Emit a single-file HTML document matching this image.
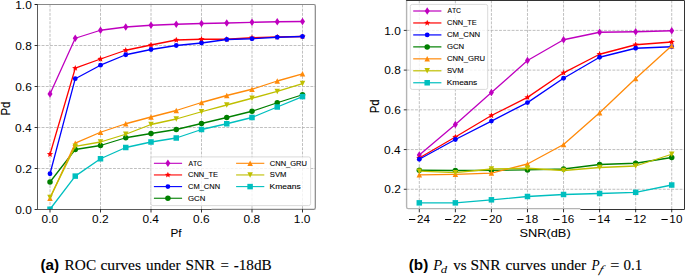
<!DOCTYPE html>
<html><head><meta charset="utf-8"><title>figure</title>
<style>
html,body{margin:0;padding:0;background:#fff;}
body{width:685px;height:276px;overflow:hidden;font-family:"Liberation Sans", sans-serif;}
svg{display:block;}
text{font-kerning:none;}
</style></head><body>
<svg width="685" height="276" viewBox="0 0 685 276">
<clipPath id="cl"><rect x="37.4" y="4.5" width="277.90" height="204.80"/></clipPath>
<line x1="50.00" y1="4.5" x2="50.00" y2="209.3" stroke="#b0b0b0" stroke-width="0.8" stroke-dasharray="2.9,1.3"/>
<line x1="37.4" y1="209.50" x2="315.3" y2="209.50" stroke="#b0b0b0" stroke-width="0.8" stroke-dasharray="2.9,1.3"/>
<line x1="100.50" y1="4.5" x2="100.50" y2="209.3" stroke="#b0b0b0" stroke-width="0.8" stroke-dasharray="2.9,1.3"/>
<line x1="37.4" y1="168.50" x2="315.3" y2="168.50" stroke="#b0b0b0" stroke-width="0.8" stroke-dasharray="2.9,1.3"/>
<line x1="151.00" y1="4.5" x2="151.00" y2="209.3" stroke="#b0b0b0" stroke-width="0.8" stroke-dasharray="2.9,1.3"/>
<line x1="37.4" y1="127.50" x2="315.3" y2="127.50" stroke="#b0b0b0" stroke-width="0.8" stroke-dasharray="2.9,1.3"/>
<line x1="201.50" y1="4.5" x2="201.50" y2="209.3" stroke="#b0b0b0" stroke-width="0.8" stroke-dasharray="2.9,1.3"/>
<line x1="37.4" y1="86.50" x2="315.3" y2="86.50" stroke="#b0b0b0" stroke-width="0.8" stroke-dasharray="2.9,1.3"/>
<line x1="252.00" y1="4.5" x2="252.00" y2="209.3" stroke="#b0b0b0" stroke-width="0.8" stroke-dasharray="2.9,1.3"/>
<line x1="37.4" y1="45.50" x2="315.3" y2="45.50" stroke="#b0b0b0" stroke-width="0.8" stroke-dasharray="2.9,1.3"/>
<line x1="302.50" y1="4.5" x2="302.50" y2="209.3" stroke="#b0b0b0" stroke-width="0.8" stroke-dasharray="2.9,1.3"/>
<line x1="37.4" y1="4.50" x2="315.3" y2="4.50" stroke="#b0b0b0" stroke-width="0.8" stroke-dasharray="2.9,1.3"/>
<g clip-path="url(#cl)">
<path d="M50.00 93.90 L75.25 38.25 L100.50 30.25 L125.75 27.00 L151.00 25.25 L176.25 24.25 L201.50 23.50 L226.75 23.00 L252.00 22.30 L277.25 21.75 L302.50 21.50" fill="none" stroke="#bf00bf" stroke-width="1.3" stroke-linejoin="round"/>
<path d="M50.00 90.10L52.50 93.90L50.00 97.70L47.50 93.90Z" fill="#bf00bf"/>
<path d="M75.25 34.45L77.75 38.25L75.25 42.05L72.75 38.25Z" fill="#bf00bf"/>
<path d="M100.50 26.45L103.00 30.25L100.50 34.05L98.00 30.25Z" fill="#bf00bf"/>
<path d="M125.75 23.20L128.25 27.00L125.75 30.80L123.25 27.00Z" fill="#bf00bf"/>
<path d="M151.00 21.45L153.50 25.25L151.00 29.05L148.50 25.25Z" fill="#bf00bf"/>
<path d="M176.25 20.45L178.75 24.25L176.25 28.05L173.75 24.25Z" fill="#bf00bf"/>
<path d="M201.50 19.70L204.00 23.50L201.50 27.30L199.00 23.50Z" fill="#bf00bf"/>
<path d="M226.75 19.20L229.25 23.00L226.75 26.80L224.25 23.00Z" fill="#bf00bf"/>
<path d="M252.00 18.50L254.50 22.30L252.00 26.10L249.50 22.30Z" fill="#bf00bf"/>
<path d="M277.25 17.95L279.75 21.75L277.25 25.55L274.75 21.75Z" fill="#bf00bf"/>
<path d="M302.50 17.70L305.00 21.50L302.50 25.30L300.00 21.50Z" fill="#bf00bf"/>
<path d="M50.00 154.25 L75.25 68.20 L100.50 59.00 L125.75 50.25 L151.00 45.00 L176.25 40.00 L201.50 39.25 L226.75 39.25 L252.00 37.75 L277.25 37.00 L302.50 36.50" fill="none" stroke="#ff0000" stroke-width="1.3" stroke-linejoin="round"/>
<polygon points="50.00,150.95 50.82,153.12 53.14,153.23 51.33,154.68 51.94,156.92 50.00,155.65 48.06,156.92 48.67,154.68 46.86,153.23 49.18,153.12" fill="#ff0000"/>
<polygon points="75.25,64.90 76.07,67.07 78.39,67.18 76.58,68.63 77.19,70.87 75.25,69.60 73.31,70.87 73.92,68.63 72.11,67.18 74.43,67.07" fill="#ff0000"/>
<polygon points="100.50,55.70 101.32,57.87 103.64,57.98 101.83,59.43 102.44,61.67 100.50,60.40 98.56,61.67 99.17,59.43 97.36,57.98 99.68,57.87" fill="#ff0000"/>
<polygon points="125.75,46.95 126.57,49.12 128.89,49.23 127.08,50.68 127.69,52.92 125.75,51.65 123.81,52.92 124.42,50.68 122.61,49.23 124.93,49.12" fill="#ff0000"/>
<polygon points="151.00,41.70 151.82,43.87 154.14,43.98 152.33,45.43 152.94,47.67 151.00,46.40 149.06,47.67 149.67,45.43 147.86,43.98 150.18,43.87" fill="#ff0000"/>
<polygon points="176.25,36.70 177.07,38.87 179.39,38.98 177.58,40.43 178.19,42.67 176.25,41.40 174.31,42.67 174.92,40.43 173.11,38.98 175.43,38.87" fill="#ff0000"/>
<polygon points="201.50,35.95 202.32,38.12 204.64,38.23 202.83,39.68 203.44,41.92 201.50,40.65 199.56,41.92 200.17,39.68 198.36,38.23 200.68,38.12" fill="#ff0000"/>
<polygon points="226.75,35.95 227.57,38.12 229.89,38.23 228.08,39.68 228.69,41.92 226.75,40.65 224.81,41.92 225.42,39.68 223.61,38.23 225.93,38.12" fill="#ff0000"/>
<polygon points="252.00,34.45 252.82,36.62 255.14,36.73 253.33,38.18 253.94,40.42 252.00,39.15 250.06,40.42 250.67,38.18 248.86,36.73 251.18,36.62" fill="#ff0000"/>
<polygon points="277.25,33.70 278.07,35.87 280.39,35.98 278.58,37.43 279.19,39.67 277.25,38.40 275.31,39.67 275.92,37.43 274.11,35.98 276.43,35.87" fill="#ff0000"/>
<polygon points="302.50,33.20 303.32,35.37 305.64,35.48 303.83,36.93 304.44,39.17 302.50,37.90 300.56,39.17 301.17,36.93 299.36,35.48 301.68,35.37" fill="#ff0000"/>
<path d="M50.00 173.75 L75.25 78.70 L100.50 65.20 L125.75 54.75 L151.00 49.50 L176.25 45.50 L201.50 43.00 L226.75 39.50 L252.00 38.75 L277.25 37.25 L302.50 36.50" fill="none" stroke="#0000ff" stroke-width="1.3" stroke-linejoin="round"/>
<circle cx="50.00" cy="173.75" r="2.40" fill="#0000ff"/>
<circle cx="75.25" cy="78.70" r="2.40" fill="#0000ff"/>
<circle cx="100.50" cy="65.20" r="2.40" fill="#0000ff"/>
<circle cx="125.75" cy="54.75" r="2.40" fill="#0000ff"/>
<circle cx="151.00" cy="49.50" r="2.40" fill="#0000ff"/>
<circle cx="176.25" cy="45.50" r="2.40" fill="#0000ff"/>
<circle cx="201.50" cy="43.00" r="2.40" fill="#0000ff"/>
<circle cx="226.75" cy="39.50" r="2.40" fill="#0000ff"/>
<circle cx="252.00" cy="38.75" r="2.40" fill="#0000ff"/>
<circle cx="277.25" cy="37.25" r="2.40" fill="#0000ff"/>
<circle cx="302.50" cy="36.50" r="2.40" fill="#0000ff"/>
<path d="M50.00 182.00 L75.25 149.50 L100.50 145.50 L125.75 137.75 L151.00 133.50 L176.25 129.50 L201.50 123.50 L226.75 117.50 L252.00 111.25 L277.25 102.75 L302.50 94.75" fill="none" stroke="#008000" stroke-width="1.3" stroke-linejoin="round"/>
<circle cx="50.00" cy="182.00" r="2.75" fill="#008000"/>
<circle cx="75.25" cy="149.50" r="2.75" fill="#008000"/>
<circle cx="100.50" cy="145.50" r="2.75" fill="#008000"/>
<circle cx="125.75" cy="137.75" r="2.75" fill="#008000"/>
<circle cx="151.00" cy="133.50" r="2.75" fill="#008000"/>
<circle cx="176.25" cy="129.50" r="2.75" fill="#008000"/>
<circle cx="201.50" cy="123.50" r="2.75" fill="#008000"/>
<circle cx="226.75" cy="117.50" r="2.75" fill="#008000"/>
<circle cx="252.00" cy="111.25" r="2.75" fill="#008000"/>
<circle cx="277.25" cy="102.75" r="2.75" fill="#008000"/>
<circle cx="302.50" cy="94.75" r="2.75" fill="#008000"/>
<path d="M50.00 198.30 L75.25 143.20 L100.50 132.25 L125.75 123.75 L151.00 117.00 L176.25 110.50 L201.50 102.50 L226.75 95.50 L252.00 89.25 L277.25 81.00 L302.50 73.80" fill="none" stroke="#ff8a0a" stroke-width="1.3" stroke-linejoin="round"/>
<path d="M50.00 195.55L52.75 201.05L47.25 201.05Z" fill="#ff8a0a"/>
<path d="M75.25 140.45L78.00 145.95L72.50 145.95Z" fill="#ff8a0a"/>
<path d="M100.50 129.50L103.25 135.00L97.75 135.00Z" fill="#ff8a0a"/>
<path d="M125.75 121.00L128.50 126.50L123.00 126.50Z" fill="#ff8a0a"/>
<path d="M151.00 114.25L153.75 119.75L148.25 119.75Z" fill="#ff8a0a"/>
<path d="M176.25 107.75L179.00 113.25L173.50 113.25Z" fill="#ff8a0a"/>
<path d="M201.50 99.75L204.25 105.25L198.75 105.25Z" fill="#ff8a0a"/>
<path d="M226.75 92.75L229.50 98.25L224.00 98.25Z" fill="#ff8a0a"/>
<path d="M252.00 86.50L254.75 92.00L249.25 92.00Z" fill="#ff8a0a"/>
<path d="M277.25 78.25L280.00 83.75L274.50 83.75Z" fill="#ff8a0a"/>
<path d="M302.50 71.05L305.25 76.55L299.75 76.55Z" fill="#ff8a0a"/>
<path d="M50.00 197.60 L75.25 146.30 L100.50 142.00 L125.75 134.25 L151.00 124.50 L176.25 119.00 L201.50 111.75 L226.75 105.00 L252.00 98.25 L277.25 91.40 L302.50 83.60" fill="none" stroke="#bfbf00" stroke-width="1.3" stroke-linejoin="round"/>
<path d="M50.00 200.35L52.75 194.85L47.25 194.85Z" fill="#bfbf00"/>
<path d="M75.25 149.05L78.00 143.55L72.50 143.55Z" fill="#bfbf00"/>
<path d="M100.50 144.75L103.25 139.25L97.75 139.25Z" fill="#bfbf00"/>
<path d="M125.75 137.00L128.50 131.50L123.00 131.50Z" fill="#bfbf00"/>
<path d="M151.00 127.25L153.75 121.75L148.25 121.75Z" fill="#bfbf00"/>
<path d="M176.25 121.75L179.00 116.25L173.50 116.25Z" fill="#bfbf00"/>
<path d="M201.50 114.50L204.25 109.00L198.75 109.00Z" fill="#bfbf00"/>
<path d="M226.75 107.75L229.50 102.25L224.00 102.25Z" fill="#bfbf00"/>
<path d="M252.00 101.00L254.75 95.50L249.25 95.50Z" fill="#bfbf00"/>
<path d="M277.25 94.15L280.00 88.65L274.50 88.65Z" fill="#bfbf00"/>
<path d="M302.50 86.35L305.25 80.85L299.75 80.85Z" fill="#bfbf00"/>
<path d="M50.00 209.25 L75.25 176.10 L100.50 158.75 L125.75 147.50 L151.00 142.00 L176.25 138.00 L201.50 129.50 L226.75 123.75 L252.00 117.50 L277.25 107.00 L302.50 96.60" fill="none" stroke="#00bfbf" stroke-width="1.3" stroke-linejoin="round"/>
<rect x="47.25" y="206.50" width="5.50" height="5.50" fill="#00bfbf"/>
<rect x="72.50" y="173.35" width="5.50" height="5.50" fill="#00bfbf"/>
<rect x="97.75" y="156.00" width="5.50" height="5.50" fill="#00bfbf"/>
<rect x="123.00" y="144.75" width="5.50" height="5.50" fill="#00bfbf"/>
<rect x="148.25" y="139.25" width="5.50" height="5.50" fill="#00bfbf"/>
<rect x="173.50" y="135.25" width="5.50" height="5.50" fill="#00bfbf"/>
<rect x="198.75" y="126.75" width="5.50" height="5.50" fill="#00bfbf"/>
<rect x="224.00" y="121.00" width="5.50" height="5.50" fill="#00bfbf"/>
<rect x="249.25" y="114.75" width="5.50" height="5.50" fill="#00bfbf"/>
<rect x="274.50" y="104.25" width="5.50" height="5.50" fill="#00bfbf"/>
<rect x="299.75" y="93.85" width="5.50" height="5.50" fill="#00bfbf"/>
</g>
<path d="M34.8 4.5 H313.8 Q315.3 4.5 315.3 6 V207.8 Q315.3 209.3 313.8 209.3 H211.5" fill="none" stroke="#888" stroke-width="1.2"/>
<path d="M37.5 4.5 V209.5 H211.5" fill="none" stroke="#5a5a5a" stroke-width="1"/>
<line x1="34.6" y1="209.50" x2="37.5" y2="209.50" stroke="#000" stroke-width="0.8"/>
<text x="15.22" y="213.60" font-family="Liberation Sans" font-size="10.86" font-weight="normal" font-style="normal" textLength="16.55" lengthAdjust="spacingAndGlyphs" fill="#000">0.0</text>
<line x1="50.00" y1="209.30" x2="50.00" y2="212.50" stroke="#000" stroke-width="0.8"/>
<text x="41.52" y="222.90" font-family="Liberation Sans" font-size="10.86" font-weight="normal" font-style="normal" textLength="16.55" lengthAdjust="spacingAndGlyphs" fill="#000">0.0</text>
<line x1="34.6" y1="168.50" x2="37.5" y2="168.50" stroke="#000" stroke-width="0.8"/>
<text x="15.34" y="172.60" font-family="Liberation Sans" font-size="10.86" font-weight="normal" font-style="normal" textLength="16.55" lengthAdjust="spacingAndGlyphs" fill="#000">0.2</text>
<line x1="100.50" y1="209.30" x2="100.50" y2="212.50" stroke="#000" stroke-width="0.8"/>
<text x="92.08" y="222.90" font-family="Liberation Sans" font-size="10.86" font-weight="normal" font-style="normal" textLength="16.55" lengthAdjust="spacingAndGlyphs" fill="#000">0.2</text>
<line x1="34.6" y1="127.50" x2="37.5" y2="127.50" stroke="#000" stroke-width="0.8"/>
<text x="15.10" y="131.60" font-family="Liberation Sans" font-size="10.86" font-weight="normal" font-style="normal" textLength="16.55" lengthAdjust="spacingAndGlyphs" fill="#000">0.4</text>
<line x1="151.00" y1="209.30" x2="151.00" y2="212.50" stroke="#000" stroke-width="0.8"/>
<text x="142.46" y="222.90" font-family="Liberation Sans" font-size="10.86" font-weight="normal" font-style="normal" textLength="16.55" lengthAdjust="spacingAndGlyphs" fill="#000">0.4</text>
<line x1="34.6" y1="86.50" x2="37.5" y2="86.50" stroke="#000" stroke-width="0.8"/>
<text x="15.22" y="90.60" font-family="Liberation Sans" font-size="10.86" font-weight="normal" font-style="normal" textLength="16.55" lengthAdjust="spacingAndGlyphs" fill="#000">0.6</text>
<line x1="201.50" y1="209.30" x2="201.50" y2="212.50" stroke="#000" stroke-width="0.8"/>
<text x="193.02" y="222.90" font-family="Liberation Sans" font-size="10.86" font-weight="normal" font-style="normal" textLength="16.55" lengthAdjust="spacingAndGlyphs" fill="#000">0.6</text>
<line x1="34.6" y1="45.50" x2="37.5" y2="45.50" stroke="#000" stroke-width="0.8"/>
<text x="15.22" y="49.60" font-family="Liberation Sans" font-size="10.86" font-weight="normal" font-style="normal" textLength="16.55" lengthAdjust="spacingAndGlyphs" fill="#000">0.8</text>
<line x1="252.00" y1="209.30" x2="252.00" y2="212.50" stroke="#000" stroke-width="0.8"/>
<text x="243.52" y="222.90" font-family="Liberation Sans" font-size="10.86" font-weight="normal" font-style="normal" textLength="16.55" lengthAdjust="spacingAndGlyphs" fill="#000">0.8</text>
<line x1="34.6" y1="4.50" x2="37.5" y2="4.50" stroke="#000" stroke-width="0.8"/>
<text x="15.22" y="8.60" font-family="Liberation Sans" font-size="10.86" font-weight="normal" font-style="normal" textLength="16.55" lengthAdjust="spacingAndGlyphs" fill="#000">1.0</text>
<line x1="302.50" y1="209.30" x2="302.50" y2="212.50" stroke="#000" stroke-width="0.8"/>
<text x="293.79" y="222.90" font-family="Liberation Sans" font-size="10.86" font-weight="normal" font-style="normal" textLength="16.55" lengthAdjust="spacingAndGlyphs" fill="#000">1.0</text>
<text x="170.46" y="237.40" font-family="Liberation Sans" font-size="11.8" font-weight="normal" font-style="normal" textLength="11.08" lengthAdjust="spacingAndGlyphs" fill="#000" stroke="#000" stroke-width="0.05">Pf</text>
<text transform="translate(9.80,115.62) rotate(-90)" x="0" y="0" font-family="Liberation Sans" font-size="12.4" textLength="14.05" lengthAdjust="spacingAndGlyphs" stroke="#000" stroke-width="0.15">Pd</text>
<rect x="150.9" y="156.9" width="159.70" height="48.70" rx="2" ry="2" fill="#fff" fill-opacity="0.8" stroke="#d6d6d6" stroke-width="0.9"/>
<line x1="153.90" y1="163.30" x2="182.10" y2="163.30" stroke="#bf00bf" stroke-width="1.1"/>
<path d="M167.90 159.50L170.40 163.30L167.90 167.10L165.40 163.30Z" fill="#bf00bf"/>
<text x="188.40" y="165.70" font-family="Liberation Sans" font-size="7.7" font-weight="normal" font-style="normal" textLength="13.62" lengthAdjust="spacingAndGlyphs" fill="#000" stroke="#000" stroke-width="0.1">ATC</text>
<line x1="153.90" y1="174.95" x2="182.10" y2="174.95" stroke="#ff0000" stroke-width="1.1"/>
<polygon points="167.90,171.65 168.72,173.82 171.04,173.93 169.23,175.38 169.84,177.62 167.90,176.35 165.96,177.62 166.57,175.38 164.76,173.93 167.08,173.82" fill="#ff0000"/>
<text x="188.03" y="177.35" font-family="Liberation Sans" font-size="7.7" font-weight="normal" font-style="normal" textLength="29.98" lengthAdjust="spacingAndGlyphs" fill="#000" stroke="#000" stroke-width="0.1">CNN_TE</text>
<line x1="153.90" y1="186.60" x2="182.10" y2="186.60" stroke="#0000ff" stroke-width="1.1"/>
<circle cx="167.90" cy="186.60" r="2.40" fill="#0000ff"/>
<text x="188.03" y="189.00" font-family="Liberation Sans" font-size="7.7" font-weight="normal" font-style="normal" textLength="32.06" lengthAdjust="spacingAndGlyphs" fill="#000" stroke="#000" stroke-width="0.1">CM_CNN</text>
<line x1="153.90" y1="198.25" x2="182.10" y2="198.25" stroke="#008000" stroke-width="1.1"/>
<circle cx="167.90" cy="198.25" r="2.75" fill="#008000"/>
<text x="188.01" y="200.65" font-family="Liberation Sans" font-size="7.7" font-weight="normal" font-style="normal" textLength="17.33" lengthAdjust="spacingAndGlyphs" fill="#000" stroke="#000" stroke-width="0.1">GCN</text>
<line x1="236.10" y1="163.30" x2="264.30" y2="163.30" stroke="#ff8a0a" stroke-width="1.1"/>
<path d="M250.10 160.55L252.85 166.05L247.35 166.05Z" fill="#ff8a0a"/>
<text x="269.82" y="165.70" font-family="Liberation Sans" font-size="7.7" font-weight="normal" font-style="normal" textLength="37.14" lengthAdjust="spacingAndGlyphs" fill="#000" stroke="#000" stroke-width="0.1">CNN_GRU</text>
<line x1="236.10" y1="174.95" x2="264.30" y2="174.95" stroke="#bfbf00" stroke-width="1.1"/>
<path d="M250.10 177.70L252.85 172.20L247.35 172.20Z" fill="#bfbf00"/>
<text x="269.82" y="177.35" font-family="Liberation Sans" font-size="7.7" font-weight="normal" font-style="normal" textLength="16.68" lengthAdjust="spacingAndGlyphs" fill="#000" stroke="#000" stroke-width="0.1">SVM</text>
<line x1="236.10" y1="186.60" x2="264.30" y2="186.60" stroke="#00bfbf" stroke-width="1.1"/>
<rect x="247.35" y="183.85" width="5.50" height="5.50" fill="#00bfbf"/>
<text x="269.52" y="189.00" font-family="Liberation Sans" font-size="7.7" font-weight="normal" font-style="normal" textLength="31.11" lengthAdjust="spacingAndGlyphs" fill="#000" stroke="#000" stroke-width="0.1">Kmeans</text>
<clipPath id="cr"><rect x="406.6" y="0.4" width="277.80" height="209.00"/></clipPath>
<line x1="419.30" y1="0.4" x2="419.30" y2="209.4" stroke="#b0b0b0" stroke-width="0.8" stroke-dasharray="2.9,1.3"/>
<line x1="455.36" y1="0.4" x2="455.36" y2="209.4" stroke="#b0b0b0" stroke-width="0.8" stroke-dasharray="2.9,1.3"/>
<line x1="491.42" y1="0.4" x2="491.42" y2="209.4" stroke="#b0b0b0" stroke-width="0.8" stroke-dasharray="2.9,1.3"/>
<line x1="527.48" y1="0.4" x2="527.48" y2="209.4" stroke="#b0b0b0" stroke-width="0.8" stroke-dasharray="2.9,1.3"/>
<line x1="563.54" y1="0.4" x2="563.54" y2="209.4" stroke="#b0b0b0" stroke-width="0.8" stroke-dasharray="2.9,1.3"/>
<line x1="599.60" y1="0.4" x2="599.60" y2="209.4" stroke="#b0b0b0" stroke-width="0.8" stroke-dasharray="2.9,1.3"/>
<line x1="635.66" y1="0.4" x2="635.66" y2="209.4" stroke="#b0b0b0" stroke-width="0.8" stroke-dasharray="2.9,1.3"/>
<line x1="671.72" y1="0.4" x2="671.72" y2="209.4" stroke="#b0b0b0" stroke-width="0.8" stroke-dasharray="2.9,1.3"/>
<line x1="406.6" y1="189.28" x2="684.4" y2="189.28" stroke="#b0b0b0" stroke-width="0.8" stroke-dasharray="2.9,1.3"/>
<line x1="406.6" y1="149.56" x2="684.4" y2="149.56" stroke="#b0b0b0" stroke-width="0.8" stroke-dasharray="2.9,1.3"/>
<line x1="406.6" y1="109.84" x2="684.4" y2="109.84" stroke="#b0b0b0" stroke-width="0.8" stroke-dasharray="2.9,1.3"/>
<line x1="406.6" y1="70.12" x2="684.4" y2="70.12" stroke="#b0b0b0" stroke-width="0.8" stroke-dasharray="2.9,1.3"/>
<line x1="406.6" y1="30.40" x2="684.4" y2="30.40" stroke="#b0b0b0" stroke-width="0.8" stroke-dasharray="2.9,1.3"/>
<g clip-path="url(#cr)">
<path d="M419.30 155.00 L455.36 124.50 L491.42 92.50 L527.48 60.50 L563.54 39.75 L599.60 32.25 L635.66 31.75 L671.72 30.75" fill="none" stroke="#bf00bf" stroke-width="1.3" stroke-linejoin="round"/>
<path d="M419.30 151.20L421.80 155.00L419.30 158.80L416.80 155.00Z" fill="#bf00bf"/>
<path d="M455.36 120.70L457.86 124.50L455.36 128.30L452.86 124.50Z" fill="#bf00bf"/>
<path d="M491.42 88.70L493.92 92.50L491.42 96.30L488.92 92.50Z" fill="#bf00bf"/>
<path d="M527.48 56.70L529.98 60.50L527.48 64.30L524.98 60.50Z" fill="#bf00bf"/>
<path d="M563.54 35.95L566.04 39.75L563.54 43.55L561.04 39.75Z" fill="#bf00bf"/>
<path d="M599.60 28.45L602.10 32.25L599.60 36.05L597.10 32.25Z" fill="#bf00bf"/>
<path d="M635.66 27.95L638.16 31.75L635.66 35.55L633.16 31.75Z" fill="#bf00bf"/>
<path d="M671.72 26.95L674.22 30.75L671.72 34.55L669.22 30.75Z" fill="#bf00bf"/>
<path d="M419.30 158.00 L455.36 137.00 L491.42 115.50 L527.48 97.40 L563.54 72.80 L599.60 54.25 L635.66 44.75 L671.72 42.00" fill="none" stroke="#ff0000" stroke-width="1.3" stroke-linejoin="round"/>
<polygon points="419.30,154.70 420.12,156.87 422.44,156.98 420.63,158.43 421.24,160.67 419.30,159.40 417.36,160.67 417.97,158.43 416.16,156.98 418.48,156.87" fill="#ff0000"/>
<polygon points="455.36,133.70 456.18,135.87 458.50,135.98 456.69,137.43 457.30,139.67 455.36,138.40 453.42,139.67 454.03,137.43 452.22,135.98 454.54,135.87" fill="#ff0000"/>
<polygon points="491.42,112.20 492.24,114.37 494.56,114.48 492.75,115.93 493.36,118.17 491.42,116.90 489.48,118.17 490.09,115.93 488.28,114.48 490.60,114.37" fill="#ff0000"/>
<polygon points="527.48,94.10 528.30,96.27 530.62,96.38 528.81,97.83 529.42,100.07 527.48,98.80 525.54,100.07 526.15,97.83 524.34,96.38 526.66,96.27" fill="#ff0000"/>
<polygon points="563.54,69.50 564.36,71.67 566.68,71.78 564.87,73.23 565.48,75.47 563.54,74.20 561.60,75.47 562.21,73.23 560.40,71.78 562.72,71.67" fill="#ff0000"/>
<polygon points="599.60,50.95 600.42,53.12 602.74,53.23 600.93,54.68 601.54,56.92 599.60,55.65 597.66,56.92 598.27,54.68 596.46,53.23 598.78,53.12" fill="#ff0000"/>
<polygon points="635.66,41.45 636.48,43.62 638.80,43.73 636.99,45.18 637.60,47.42 635.66,46.15 633.72,47.42 634.33,45.18 632.52,43.73 634.84,43.62" fill="#ff0000"/>
<polygon points="671.72,38.70 672.54,40.87 674.86,40.98 673.05,42.43 673.66,44.67 671.72,43.40 669.78,44.67 670.39,42.43 668.58,40.98 670.90,40.87" fill="#ff0000"/>
<path d="M419.30 159.25 L455.36 139.50 L491.42 121.10 L527.48 102.60 L563.54 78.25 L599.60 57.25 L635.66 48.25 L671.72 46.75" fill="none" stroke="#0000ff" stroke-width="1.3" stroke-linejoin="round"/>
<circle cx="419.30" cy="159.25" r="2.40" fill="#0000ff"/>
<circle cx="455.36" cy="139.50" r="2.40" fill="#0000ff"/>
<circle cx="491.42" cy="121.10" r="2.40" fill="#0000ff"/>
<circle cx="527.48" cy="102.60" r="2.40" fill="#0000ff"/>
<circle cx="563.54" cy="78.25" r="2.40" fill="#0000ff"/>
<circle cx="599.60" cy="57.25" r="2.40" fill="#0000ff"/>
<circle cx="635.66" cy="48.25" r="2.40" fill="#0000ff"/>
<circle cx="671.72" cy="46.75" r="2.40" fill="#0000ff"/>
<path d="M419.30 170.25 L455.36 170.50 L491.42 170.30 L527.48 169.90 L563.54 169.00 L599.60 164.50 L635.66 163.25 L671.72 157.50" fill="none" stroke="#008000" stroke-width="1.3" stroke-linejoin="round"/>
<circle cx="419.30" cy="170.25" r="2.75" fill="#008000"/>
<circle cx="455.36" cy="170.50" r="2.75" fill="#008000"/>
<circle cx="491.42" cy="170.30" r="2.75" fill="#008000"/>
<circle cx="527.48" cy="169.90" r="2.75" fill="#008000"/>
<circle cx="563.54" cy="169.00" r="2.75" fill="#008000"/>
<circle cx="599.60" cy="164.50" r="2.75" fill="#008000"/>
<circle cx="635.66" cy="163.25" r="2.75" fill="#008000"/>
<circle cx="671.72" cy="157.50" r="2.75" fill="#008000"/>
<path d="M419.30 174.80 L455.36 174.30 L491.42 173.10 L527.48 164.00 L563.54 144.50 L599.60 112.75 L635.66 78.50 L671.72 45.75" fill="none" stroke="#ff8a0a" stroke-width="1.3" stroke-linejoin="round"/>
<path d="M419.30 172.05L422.05 177.55L416.55 177.55Z" fill="#ff8a0a"/>
<path d="M455.36 171.55L458.11 177.05L452.61 177.05Z" fill="#ff8a0a"/>
<path d="M491.42 170.35L494.17 175.85L488.67 175.85Z" fill="#ff8a0a"/>
<path d="M527.48 161.25L530.23 166.75L524.73 166.75Z" fill="#ff8a0a"/>
<path d="M563.54 141.75L566.29 147.25L560.79 147.25Z" fill="#ff8a0a"/>
<path d="M599.60 110.00L602.35 115.50L596.85 115.50Z" fill="#ff8a0a"/>
<path d="M635.66 75.75L638.41 81.25L632.91 81.25Z" fill="#ff8a0a"/>
<path d="M671.72 43.00L674.47 48.50L668.97 48.50Z" fill="#ff8a0a"/>
<path d="M419.30 171.20 L455.36 172.70 L491.42 169.00 L527.48 168.25 L563.54 170.50 L599.60 167.50 L635.66 166.00 L671.72 154.25" fill="none" stroke="#bfbf00" stroke-width="1.3" stroke-linejoin="round"/>
<path d="M419.30 173.95L422.05 168.45L416.55 168.45Z" fill="#bfbf00"/>
<path d="M455.36 175.45L458.11 169.95L452.61 169.95Z" fill="#bfbf00"/>
<path d="M491.42 171.75L494.17 166.25L488.67 166.25Z" fill="#bfbf00"/>
<path d="M527.48 171.00L530.23 165.50L524.73 165.50Z" fill="#bfbf00"/>
<path d="M563.54 173.25L566.29 167.75L560.79 167.75Z" fill="#bfbf00"/>
<path d="M599.60 170.25L602.35 164.75L596.85 164.75Z" fill="#bfbf00"/>
<path d="M635.66 168.75L638.41 163.25L632.91 163.25Z" fill="#bfbf00"/>
<path d="M671.72 157.00L674.47 151.50L668.97 151.50Z" fill="#bfbf00"/>
<path d="M419.30 202.85 L455.36 202.85 L491.42 199.80 L527.48 196.50 L563.54 194.50 L599.60 193.50 L635.66 192.30 L671.72 185.00" fill="none" stroke="#00bfbf" stroke-width="1.3" stroke-linejoin="round"/>
<rect x="416.55" y="200.10" width="5.50" height="5.50" fill="#00bfbf"/>
<rect x="452.61" y="200.10" width="5.50" height="5.50" fill="#00bfbf"/>
<rect x="488.67" y="197.05" width="5.50" height="5.50" fill="#00bfbf"/>
<rect x="524.73" y="193.75" width="5.50" height="5.50" fill="#00bfbf"/>
<rect x="560.79" y="191.75" width="5.50" height="5.50" fill="#00bfbf"/>
<rect x="596.85" y="190.75" width="5.50" height="5.50" fill="#00bfbf"/>
<rect x="632.91" y="189.55" width="5.50" height="5.50" fill="#00bfbf"/>
<rect x="668.97" y="182.25" width="5.50" height="5.50" fill="#00bfbf"/>
</g>
<path d="M406.6 0 V207.0 Q406.6 208.6 408.2 208.6 H580.4" fill="none" stroke="#b4b4b4" stroke-width="1.4"/>
<path d="M406.2 0.5 H684.5 V209.5 H580.4" fill="none" stroke="#333" stroke-width="1"/>
<line x1="403.8" y1="189.28" x2="406.6" y2="189.28" stroke="#000" stroke-width="0.8"/>
<text x="384.34" y="193.38" font-family="Liberation Sans" font-size="10.86" font-weight="normal" font-style="normal" textLength="16.55" lengthAdjust="spacingAndGlyphs" fill="#000">0.2</text>
<line x1="403.8" y1="149.56" x2="406.6" y2="149.56" stroke="#000" stroke-width="0.8"/>
<text x="384.10" y="153.66" font-family="Liberation Sans" font-size="10.86" font-weight="normal" font-style="normal" textLength="16.55" lengthAdjust="spacingAndGlyphs" fill="#000">0.4</text>
<line x1="403.8" y1="109.84" x2="406.6" y2="109.84" stroke="#000" stroke-width="0.8"/>
<text x="384.22" y="113.94" font-family="Liberation Sans" font-size="10.86" font-weight="normal" font-style="normal" textLength="16.55" lengthAdjust="spacingAndGlyphs" fill="#000">0.6</text>
<line x1="403.8" y1="70.12" x2="406.6" y2="70.12" stroke="#000" stroke-width="0.8"/>
<text x="384.22" y="74.22" font-family="Liberation Sans" font-size="10.86" font-weight="normal" font-style="normal" textLength="16.55" lengthAdjust="spacingAndGlyphs" fill="#000">0.8</text>
<line x1="403.8" y1="30.40" x2="406.6" y2="30.40" stroke="#000" stroke-width="0.8"/>
<text x="384.22" y="34.50" font-family="Liberation Sans" font-size="10.86" font-weight="normal" font-style="normal" textLength="16.55" lengthAdjust="spacingAndGlyphs" fill="#000">1.0</text>
<line x1="419.30" y1="209" x2="419.30" y2="212.3" stroke="#000" stroke-width="0.8"/>
<rect x="409.00" y="219.00" width="6.3" height="1.0" fill="#000"/>
<text x="416.92" y="222.85" font-family="Liberation Sans" font-size="10.86" font-weight="normal" font-style="normal" textLength="12.96" lengthAdjust="spacingAndGlyphs" fill="#000">24</text>
<line x1="455.36" y1="209" x2="455.36" y2="212.3" stroke="#000" stroke-width="0.8"/>
<rect x="445.06" y="219.00" width="6.3" height="1.0" fill="#000"/>
<text x="452.97" y="222.85" font-family="Liberation Sans" font-size="10.86" font-weight="normal" font-style="normal" textLength="13.22" lengthAdjust="spacingAndGlyphs" fill="#000">22</text>
<line x1="491.42" y1="209" x2="491.42" y2="212.3" stroke="#000" stroke-width="0.8"/>
<rect x="481.12" y="219.00" width="6.3" height="1.0" fill="#000"/>
<text x="489.03" y="222.85" font-family="Liberation Sans" font-size="10.86" font-weight="normal" font-style="normal" textLength="13.09" lengthAdjust="spacingAndGlyphs" fill="#000">20</text>
<line x1="527.48" y1="209" x2="527.48" y2="212.3" stroke="#000" stroke-width="0.8"/>
<rect x="517.18" y="219.00" width="6.3" height="1.0" fill="#000"/>
<text x="525.14" y="222.85" font-family="Liberation Sans" font-size="10.86" font-weight="normal" font-style="normal" textLength="13.03" lengthAdjust="spacingAndGlyphs" fill="#000">18</text>
<line x1="563.54" y1="209" x2="563.54" y2="212.3" stroke="#000" stroke-width="0.8"/>
<rect x="553.24" y="219.00" width="6.3" height="1.0" fill="#000"/>
<text x="561.20" y="222.85" font-family="Liberation Sans" font-size="10.86" font-weight="normal" font-style="normal" textLength="13.03" lengthAdjust="spacingAndGlyphs" fill="#000">16</text>
<line x1="599.60" y1="209" x2="599.60" y2="212.3" stroke="#000" stroke-width="0.8"/>
<rect x="589.30" y="219.00" width="6.3" height="1.0" fill="#000"/>
<text x="597.27" y="222.85" font-family="Liberation Sans" font-size="10.86" font-weight="normal" font-style="normal" textLength="12.90" lengthAdjust="spacingAndGlyphs" fill="#000">14</text>
<line x1="635.66" y1="209" x2="635.66" y2="212.3" stroke="#000" stroke-width="0.8"/>
<rect x="625.36" y="219.00" width="6.3" height="1.0" fill="#000"/>
<text x="633.31" y="222.85" font-family="Liberation Sans" font-size="10.86" font-weight="normal" font-style="normal" textLength="13.17" lengthAdjust="spacingAndGlyphs" fill="#000">12</text>
<line x1="671.72" y1="209" x2="671.72" y2="212.3" stroke="#000" stroke-width="0.8"/>
<rect x="661.42" y="219.00" width="6.3" height="1.0" fill="#000"/>
<text x="669.38" y="222.85" font-family="Liberation Sans" font-size="10.86" font-weight="normal" font-style="normal" textLength="13.03" lengthAdjust="spacingAndGlyphs" fill="#000">10</text>
<text x="519.56" y="237.40" font-family="Liberation Sans" font-size="11.8" font-weight="normal" font-style="normal" textLength="51.11" lengthAdjust="spacingAndGlyphs" fill="#000" stroke="#000" stroke-width="0.05">SNR(dB)</text>
<text transform="translate(379.00,113.32) rotate(-90)" x="0" y="0" font-family="Liberation Sans" font-size="12.7" textLength="14.05" lengthAdjust="spacingAndGlyphs" stroke="#000" stroke-width="0.15">Pd</text>
<rect x="410.3" y="4.4" width="77.40" height="85.00" rx="2" ry="2" fill="#fff" fill-opacity="0.8" stroke="#d6d6d6" stroke-width="0.9"/>
<line x1="413.20" y1="11.00" x2="441.40" y2="11.00" stroke="#bf00bf" stroke-width="1.2"/>
<path d="M427.20 7.20L429.70 11.00L427.20 14.80L424.70 11.00Z" fill="#bf00bf"/>
<text x="447.40" y="13.40" font-family="Liberation Sans" font-size="7.7" font-weight="normal" font-style="normal" textLength="13.62" lengthAdjust="spacingAndGlyphs" fill="#000" stroke="#000" stroke-width="0.1">ATC</text>
<line x1="413.20" y1="22.96" x2="441.40" y2="22.96" stroke="#ff0000" stroke-width="1.2"/>
<polygon points="427.20,19.66 428.02,21.83 430.34,21.94 428.53,23.39 429.14,25.63 427.20,24.36 425.26,25.63 425.87,23.39 424.06,21.94 426.38,21.83" fill="#ff0000"/>
<text x="447.03" y="25.36" font-family="Liberation Sans" font-size="7.7" font-weight="normal" font-style="normal" textLength="29.77" lengthAdjust="spacingAndGlyphs" fill="#000" stroke="#000" stroke-width="0.1">CNN_TE</text>
<line x1="413.20" y1="34.92" x2="441.40" y2="34.92" stroke="#0000ff" stroke-width="1.2"/>
<circle cx="427.20" cy="34.92" r="2.40" fill="#0000ff"/>
<text x="447.01" y="37.32" font-family="Liberation Sans" font-size="7.7" font-weight="normal" font-style="normal" textLength="33.09" lengthAdjust="spacingAndGlyphs" fill="#000" stroke="#000" stroke-width="0.1">CM_CNN</text>
<line x1="413.20" y1="46.88" x2="441.40" y2="46.88" stroke="#008000" stroke-width="1.2"/>
<circle cx="427.20" cy="46.88" r="2.75" fill="#008000"/>
<text x="447.01" y="49.28" font-family="Liberation Sans" font-size="7.7" font-weight="normal" font-style="normal" textLength="17.22" lengthAdjust="spacingAndGlyphs" fill="#000" stroke="#000" stroke-width="0.1">GCN</text>
<line x1="413.20" y1="58.84" x2="441.40" y2="58.84" stroke="#ff8a0a" stroke-width="1.2"/>
<path d="M427.20 56.09L429.95 61.59L424.45 61.59Z" fill="#ff8a0a"/>
<text x="447.02" y="61.24" font-family="Liberation Sans" font-size="7.7" font-weight="normal" font-style="normal" textLength="37.96" lengthAdjust="spacingAndGlyphs" fill="#000" stroke="#000" stroke-width="0.1">CNN_GRU</text>
<line x1="413.20" y1="70.80" x2="441.40" y2="70.80" stroke="#bfbf00" stroke-width="1.2"/>
<path d="M427.20 73.55L429.95 68.05L424.45 68.05Z" fill="#bfbf00"/>
<text x="447.02" y="73.20" font-family="Liberation Sans" font-size="7.7" font-weight="normal" font-style="normal" textLength="16.57" lengthAdjust="spacingAndGlyphs" fill="#000" stroke="#000" stroke-width="0.1">SVM</text>
<line x1="413.20" y1="82.76" x2="441.40" y2="82.76" stroke="#00bfbf" stroke-width="1.2"/>
<rect x="424.45" y="80.01" width="5.50" height="5.50" fill="#00bfbf"/>
<text x="446.74" y="85.16" font-family="Liberation Sans" font-size="7.7" font-weight="normal" font-style="normal" textLength="30.49" lengthAdjust="spacingAndGlyphs" fill="#000" stroke="#000" stroke-width="0.1">Kmeans</text>
<text x="40.54" y="270.10" font-family="Liberation Sans" font-size="14.6" font-weight="bold" font-style="normal" textLength="18.66" lengthAdjust="spacingAndGlyphs" fill="#000">(a)</text>
<text x="64.64" y="270.10" font-family="Liberation Serif" font-size="14.6" font-weight="normal" font-style="normal" textLength="31.52" lengthAdjust="spacingAndGlyphs" fill="#000" stroke="#000" stroke-width="0.12">ROC</text>
<text x="100.48" y="270.10" font-family="Liberation Serif" font-size="14.6" font-weight="normal" font-style="normal" textLength="40.54" lengthAdjust="spacingAndGlyphs" fill="#000" stroke="#000" stroke-width="0.12">curves</text>
<text x="146.05" y="270.10" font-family="Liberation Serif" font-size="14.6" font-weight="normal" font-style="normal" textLength="34.56" lengthAdjust="spacingAndGlyphs" fill="#000" stroke="#000" stroke-width="0.12">under</text>
<text x="185.43" y="270.10" font-family="Liberation Serif" font-size="14.6" font-weight="normal" font-style="normal" textLength="29.65" lengthAdjust="spacingAndGlyphs" fill="#000" stroke="#000" stroke-width="0.12">SNR</text>
<text x="220.46" y="270.10" font-family="Liberation Serif" font-size="14.6" font-weight="normal" font-style="normal" textLength="8.40" lengthAdjust="spacingAndGlyphs" fill="#000" stroke="#000" stroke-width="0.12">=</text>
<text x="233.69" y="270.10" font-family="Liberation Serif" font-size="14.6" font-weight="normal" font-style="normal" textLength="37.97" lengthAdjust="spacingAndGlyphs" fill="#000" stroke="#000" stroke-width="0.12">-18dB</text>
<text x="408.74" y="270.10" font-family="Liberation Sans" font-size="14.6" font-weight="bold" font-style="normal" textLength="19.48" lengthAdjust="spacingAndGlyphs" fill="#000">(b)</text>
<text x="433.30" y="270.10" font-family="Liberation Serif" font-size="14.6" font-weight="normal" font-style="italic" textLength="8.91" lengthAdjust="spacingAndGlyphs" fill="#000">P</text>
<text x="440.72" y="273.10" font-family="Liberation Serif" font-size="10.7" font-weight="normal" font-style="italic" textLength="6.38" lengthAdjust="spacingAndGlyphs" fill="#000">d</text>
<text x="453.20" y="270.10" font-family="Liberation Serif" font-size="14.6" font-weight="normal" font-style="normal" textLength="13.50" lengthAdjust="spacingAndGlyphs" fill="#000" stroke="#000" stroke-width="0.12">vs</text>
<text x="470.42" y="270.10" font-family="Liberation Serif" font-size="14.6" font-weight="normal" font-style="normal" textLength="30.06" lengthAdjust="spacingAndGlyphs" fill="#000" stroke="#000" stroke-width="0.12">SNR</text>
<text x="505.48" y="270.10" font-family="Liberation Serif" font-size="14.6" font-weight="normal" font-style="normal" textLength="40.54" lengthAdjust="spacingAndGlyphs" fill="#000" stroke="#000" stroke-width="0.12">curves</text>
<text x="551.05" y="270.10" font-family="Liberation Serif" font-size="14.6" font-weight="normal" font-style="normal" textLength="35.16" lengthAdjust="spacingAndGlyphs" fill="#000" stroke="#000" stroke-width="0.12">under</text>
<text x="610.19" y="270.10" font-family="Liberation Serif" font-size="14.6" font-weight="normal" font-style="normal" textLength="9.12" lengthAdjust="spacingAndGlyphs" fill="#000" stroke="#000" stroke-width="0.12">=</text>
<text x="623.50" y="270.10" font-family="Liberation Serif" font-size="14.6" font-weight="normal" font-style="normal" textLength="18.80" lengthAdjust="spacingAndGlyphs" fill="#000" stroke="#000" stroke-width="0.12">0.1</text>
<text x="591.40" y="270.10" font-family="Liberation Serif" font-size="14.6" font-weight="normal" font-style="italic" textLength="8.18" lengthAdjust="spacingAndGlyphs" fill="#000">P</text>
<text transform="translate(598.43,273.0) skewX(-17.0)" x="0" y="0" font-family="Liberation Serif" font-size="11.0" font-style="italic" textLength="3.52" lengthAdjust="spacingAndGlyphs">f</text>
</svg>
</body></html>
